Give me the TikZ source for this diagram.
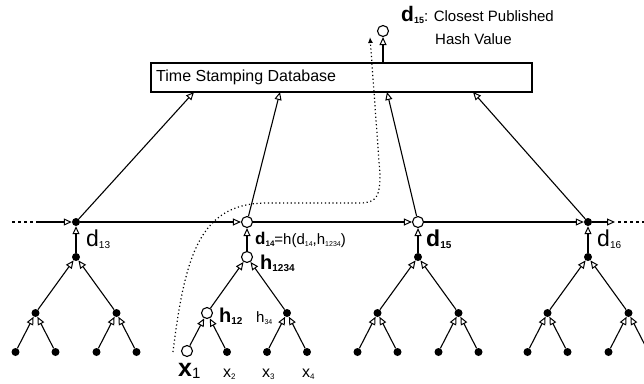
\documentclass[tikz,border=0pt]{standalone}
\usepackage{fontspec}
\setmainfont{Liberation Sans}
\usetikzlibrary{arrows.meta}
\newcommand{\fsz}[1]{\fontsize{#1}{#1}\selectfont}
\newcommand{\sbx}[2]{\raisebox{-2.5pt}{\fsz{#1}#2}}
\tikzset{
  fdot/.style={circle, fill=black, inner sep=0pt, minimum size=8pt},
  odot/.style={circle, draw, fill=white, line width=1.1pt, inner sep=0pt, minimum size=11pt},
  arr/.style={-{Triangle[open,length=8pt,width=7pt,line width=1pt]}, line width=1.1pt},
  lbl/.style={inner sep=0pt, anchor=base west},
  dotline/.style={line width=1.2pt, dash pattern=on 1.2pt off 2.6pt},
}
\begin{document}
\begin{tikzpicture}[x=1pt,y=-1pt]
\useasboundingbox (0,0) rectangle (644,383);
% database
\node[draw, line width=2pt, minimum width=381pt, minimum height=29pt, inner sep=0pt, anchor=north west] (db) at (150,62) {};
\node[lbl, anchor=west] (dbt) at (156,77) {\fsz{16}Time Stamping Database};
\node[odot] (pub) at (383,31) {};
\draw[arr] (db.north -| pub) -- (pub);
\node[lbl] (publbl) at (401,21) {\fsz{21}\textbf{d}\sbx{9}{\textbf{15}}\fsz{15}: Closest Published};
\node[lbl] (publbl2) at (435,44) {\fsz{15}Hash Value};
% chain
\node[fdot] (d13) at (76,222) {};
\node[odot] (d14) at (247,222) {};
\node[odot] (d15) at (418,222) {};
\node[fdot] (d16) at (588,222) {};
\coordinate (cl0) at (12,222);
\coordinate (cl1) at (37,222);
\coordinate (cr1) at (615,222);
\coordinate (cr0) at (644,222);
\draw[line width=1.1pt, dash pattern=on 3pt off 3pt] (cl0) -- (cl1);
\draw[arr] (cl1) -- (d13);
\draw[arr] (d13) -- (d14);
\draw[arr] (d14) -- (d15);
\draw[arr] (d15) -- (d16);
\draw[arr] (d16) -- (cr1);
\draw[line width=1.1pt, dash pattern=on 3pt off 3pt] (cr1) ++(3,0) -- (cr0);
% arrows to database
\coordinate (t1) at (194,92);
\coordinate (t2) at (280,92);
\coordinate (t3) at (387,92);
\coordinate (t4) at (473,92);
\draw[arr] (d13) -- (t1);
\draw[arr] (d14) -- (t2);
\draw[arr] (d15) -- (t3);
\draw[arr] (d16) -- (t4);
% generic trees
\foreach \n/\cx in {a/76,c/418,d/588}{
  \node[fdot] (\n-r) at (\cx,257) {};
  \node[fdot] (\n-L) at (\cx-40.5,313) {};
  \node[fdot] (\n-R) at (\cx+40.5,313) {};
  \node[fdot] (\n-1) at (\cx-60.5,352) {};
  \node[fdot] (\n-2) at (\cx-20.5,352) {};
  \node[fdot] (\n-3) at (\cx+20.5,352) {};
  \node[fdot] (\n-4) at (\cx+60.5,352) {};
  \draw[arr] (\n-L) -- (\n-r);
  \draw[arr] (\n-R) -- (\n-r);
  \draw[arr] (\n-1) -- (\n-L);
  \draw[arr] (\n-2) -- (\n-L);
  \draw[arr] (\n-3) -- (\n-R);
  \draw[arr] (\n-4) -- (\n-R);
}
\draw[arr] (a-r) -- (d13);
\draw[arr] (c-r) -- (d15);
\draw[arr] (d-r) -- (d16);
% d14 tree
\node[odot] (h1234) at (247,257) {};
\node[odot] (h12) at (207,313) {};
\node[fdot] (h34) at (287,313) {};
\node[odot] (x1) at (187,351) {};
\node[fdot] (x2) at (227,352) {};
\node[fdot] (x3) at (267,352) {};
\node[fdot] (x4) at (307,352) {};
\draw[arr] (h12) -- (h1234);
\draw[arr] (h34) -- (h1234);
\draw[arr] (x1) -- (h12);
\draw[arr] (x2) -- (h12);
\draw[arr] (x3) -- (h34);
\draw[arr] (x4) -- (h34);
\draw[arr] (h1234) -- (d14);
% labels
\node[lbl] (l13) at (86,246) {\fsz{23}d\sbx{10}{13}};
\node[lbl] (l15) at (426,246) {\fsz{23}\textbf{d}\sbx{10}{\textbf{15}}};
\node[lbl] (l16) at (597,246) {\fsz{23}d\sbx{10}{16}};
\node[lbl] (l14) at (255,244) {\fsz{17}\textbf{d}\sbx{8}{\textbf{14}}\fsz{15}=h(d\sbx{7}{14},h\sbx{7}{1234})};
\node[lbl] (lh1234) at (260,269) {\fsz{20}\textbf{h}\sbx{10}{\textbf{1234}}};
\node[lbl] (lh12) at (219,322) {\fsz{20}\textbf{h}\sbx{10}{\textbf{12}}};
\node[lbl] (lh34) at (256,322) {\fsz{15}h\sbx{7}{34}};
\node[lbl] (lx1) at (178,376) {\fsz{25}\textbf{x}\raisebox{-2pt}{\fsz{15}1}};
\node[lbl] (lx2) at (223,377) {\fsz{16}x\sbx{8}{2}};
\node[lbl] (lx3) at (262,377) {\fsz{16}x\sbx{8}{3}};
\node[lbl] (lx4) at (302,377) {\fsz{16}x\sbx{8}{4}};
% dotted path
\coordinate (ds) at (173,352);
\coordinate (de) at (370,37);
\draw[dotline, -{Latex[length=6pt,width=5pt]}] (ds) .. controls (185,255) and (200,204) .. (265,203) -- (360,203) .. controls (377,203) and (380,195) .. (380,175) -- (de);
\end{tikzpicture}
\end{document}
